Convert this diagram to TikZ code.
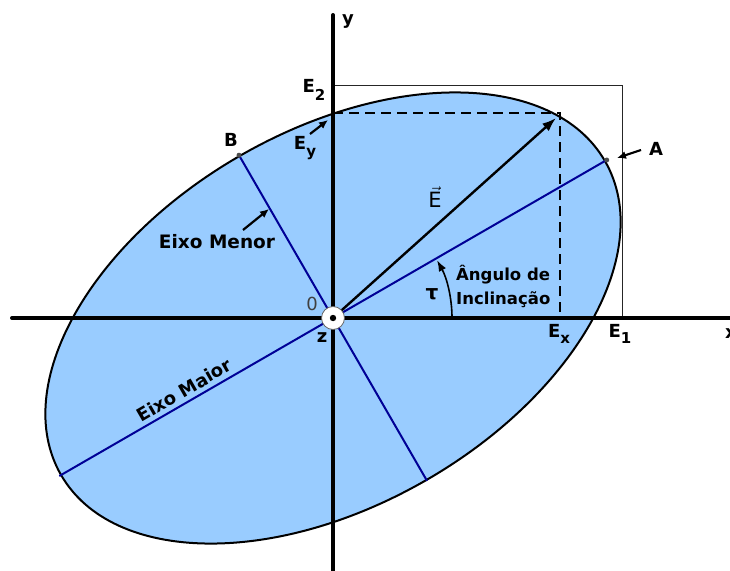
\documentclass[tikz,border=0pt]{standalone}
\usepackage{fontspec}
\setmainfont{DejaVu Sans}
\usetikzlibrary{arrows.meta}
\definecolor{fillblue}{RGB}{153,204,255}
\definecolor{axisblue}{RGB}{0,0,150}
\begin{document}
\begin{tikzpicture}[x=1pt,y=-1pt,
  lbl/.style={font=\bfseries\fontsize{18}{18}\selectfont, inner sep=0pt},
  boldlbl/.style={font=\bfseries\fontsize{18}{18}\selectfont, inner sep=0pt},
  axisline/.style={line width=4pt, line cap=round},
  ellaxis/.style={draw=axisblue, line width=2pt},
  pointer/.style={line width=2.2pt, -{Latex[length=9pt,width=8pt]}},
  guide/.style={line width=0.9pt, draw=black!85},
  dashguide/.style={line width=2.5pt, dash pattern=on 10pt off 6pt}
]
\useasboundingbox (0,0) rectangle (730,570);
\fill[white] (0,0) rectangle (730,570);
% key points
\coordinate (O) at (333,318);
\coordinate (A) at (606.7,160);
\coordinate (Amaj) at (59.3,476);
\coordinate (B) at (239,155.2);
\coordinate (Bmin) at (427,480.8);
\coordinate (E2p) at (333,85);
\coordinate (corner) at (622,85);
\coordinate (E1p) at (622,318);
\coordinate (Eyp) at (333,113);
\coordinate (Ecorner) at (560,113);
\coordinate (Exp) at (560,318);
\coordinate (Etip) at (556,118);
\coordinate (xl) at (12,318);
\coordinate (xr) at (745,318);
\coordinate (yt) at (333,15);
\coordinate (yb) at (333,580);
% ellipse
\draw[fill=fillblue, line width=2pt, rotate around={30:(O)}] (O) ellipse [x radius=314pt, y radius=187pt];
% bounding guides
\draw[guide] (E2p) -- (corner) -- (E1p);
\draw[dashguide] (Eyp) -- (Ecorner) -- (Exp);
% axes
\draw[axisline] (xl) -- (xr);
\draw[axisline] (yt) -- (yb);
% ellipse axes
\draw[ellaxis] (Amaj) -- (A);
\draw[ellaxis] (B) -- (Bmin);
\fill[black!70] (B) circle (2.5pt);
\fill[black!70] (A) circle (2.5pt);
% field vector
\draw[line width=2.4pt, -{Latex[length=14pt,width=10pt]}] (O) -- (Etip);
% angle arc
\draw[line width=1.6pt, -{Latex[length=11pt,width=8pt]}] (452,318) arc[start angle=0, end angle=29, radius=119pt];
% origin symbol
\node[circle, fill=white, draw=black!60, line width=0.8pt, minimum size=23pt, inner sep=0pt] (orig) at (O) {};
\fill (O) circle (3.2pt);
% pointers
\coordinate (EyT) at (310,134); \coordinate (EyH) at (328,120);
\coordinate (AT) at (641,150); \coordinate (AH) at (617,158);
\coordinate (EmT) at (243,230); \coordinate (EmH) at (269,209);
\draw[pointer] (EyT) -- (EyH);
\draw[pointer] (AT) -- (AH);
\draw[pointer] (EmT) -- (EmH);
% labels
\node[lbl] (ylab) at (348,22) {y};
\node[lbl] (xlab) [anchor=west] at (725,334) {x};
\node[lbl] (E2lab) at (314,90) {E\raisebox{-0.4em}{\fontsize{15}{15}\selectfont 2}};
\node[lbl] (Eylab) at (305,148) {E\raisebox{-0.35em}{\fontsize{15}{15}\selectfont y}};
\node[lbl] (Blab) at (231,140) {B};
\node[lbl] (Alab) at (656,149) {A};
\node[lbl] (E1lab) at (620,334) {E\raisebox{-0.35em}{\fontsize{15}{15}\selectfont 1}};
\node[lbl] (Exlab) at (559,334) {E\raisebox{-0.35em}{\fontsize{15}{15}\selectfont x}};
\node[lbl, font=\fontsize{18}{18}\selectfont, text=black!75] (zero) at (312,304) {0};
\node[lbl] (zlab) at (322,338) {z};
\node[lbl, font=\fontsize{21}{21}\selectfont] (Evec) at (435,197) {$\vec{\hbox{E}}$};
\node[boldlbl, font=\bfseries\fontsize{20}{20}\selectfont] (tau) at (432,294) {τ};
\node[boldlbl, font=\bfseries\fontsize{16.5}{24}\selectfont, align=left, anchor=north west] (angle) at (456,265) {Ângulo de\\Inclinação};
\node[boldlbl, font=\bfseries\fontsize{18.5}{18.5}\selectfont] (menor) at (217,242) {Eixo Menor};
\node[boldlbl, rotate=30] (maior) at (184,390) {Eixo Maior};
\end{tikzpicture}
\end{document}
